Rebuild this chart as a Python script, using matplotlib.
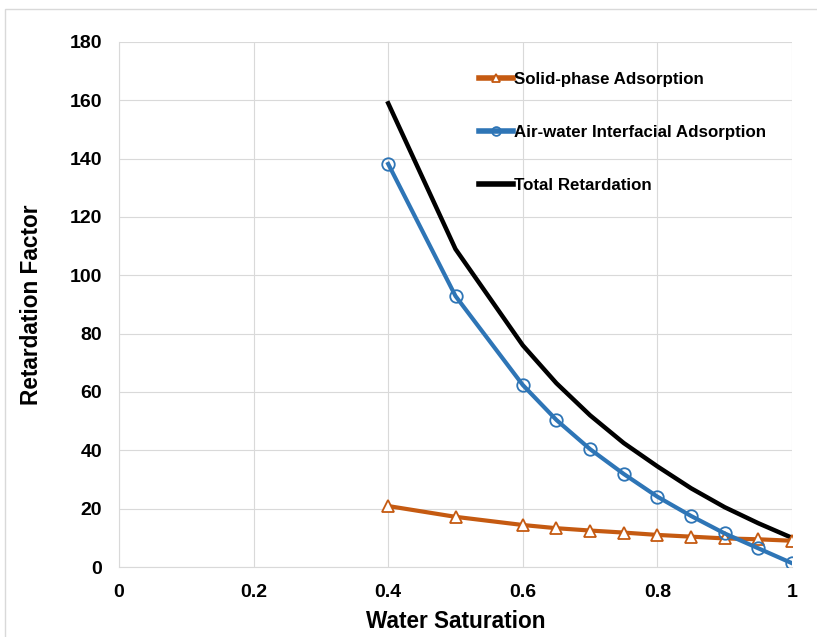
import matplotlib
matplotlib.use("Agg")
import matplotlib.pyplot as plt
from matplotlib.patches import Rectangle

plt.rcParams['font.family'] = ['Liberation Sans', 'DejaVu Sans']
plt.rcParams['font.weight'] = 'bold'

# water saturation values
sw = [0.4, 0.5, 0.6, 0.65, 0.7, 0.75, 0.8, 0.85, 0.9, 0.95, 1.0]
solid = [20.9, 17.2, 14.4, 13.3, 12.5, 11.8, 11.0, 10.4, 9.8, 9.5, 9.0]
airwater = [138.2, 92.9, 62.4, 50.4, 40.4, 31.9, 24.1, 17.5, 11.5, 6.4, 1.3]
total = [159, 109, 76, 63, 52, 42.5, 34.5, 27, 20.5, 15, 10]

xticks = [0, 0.2, 0.4, 0.6, 0.8, 1]
xticklabels = ['0', '0.2', '0.4', '0.6', '0.8', '1']
yticks = list(range(0, 181, 20))

orange = '#C55A11'
blue = '#2E75B6'
grid_c = '#D9D9D9'

fig = plt.figure(figsize=(8.17, 6.37), dpi=100)
ax = fig.add_axes([119 / 817, 1 - 567 / 637, 673 / 817, 525 / 637])

# outer chart border
fig.patches.append(Rectangle((5 / 817, -0.02), 1.0, 1 - 9 / 637 + 0.02,
                             transform=fig.transFigure, fill=False,
                             edgecolor=grid_c, linewidth=1))

ax.plot(sw, solid, color=orange, lw=3, marker='^', ms=9, mfc='white',
        mec=orange, mew=1.3, label='Solid-phase Adsorption', zorder=3)
ax.plot(sw, airwater, color=blue, lw=3, marker='o', ms=9, mfc='none',
        mec=blue, mew=1.3, label='Air-water Interfacial Adsorption', zorder=4)
ax.plot(sw, total, color='black', lw=3.2, label='Total Retardation', zorder=2)

ax.set_xlim(0, 1)
ax.set_ylim(0, 180)
ax.set_xticks(xticks)
ax.set_xticklabels(xticklabels)
ax.set_yticks(yticks)
ax.tick_params(length=0, labelsize=14)
ax.tick_params(axis='x', pad=12)
ax.tick_params(axis='y', pad=12)
for lab in ax.get_xticklabels() + ax.get_yticklabels():
    lab.set_fontweight('bold')

ax.grid(True, color=grid_c, lw=0.8)
ax.set_axisbelow(True)
for s in ['top', 'right']:
    ax.spines[s].set_visible(False)
for s in ['left', 'bottom']:
    ax.spines[s].set_color(grid_c)

ax.set_xlabel('Water Saturation', fontsize=16.3, fontweight='bold', labelpad=7)
ax.set_ylabel('Retardation Factor', fontsize=16.3, fontweight='bold', labelpad=19)

leg = ax.legend(loc='upper left', bbox_to_anchor=(0.525, 0.956), frameon=False,
                fontsize=12.2, handlelength=2.0, handletextpad=0.05,
                labelspacing=2.25, borderaxespad=0, markerscale=0.7)
for t in leg.get_texts():
    t.set_fontweight('bold')
for h in leg.legend_handles:
    h.set_linewidth(4)

fig.savefig('out.png', dpi=100)
